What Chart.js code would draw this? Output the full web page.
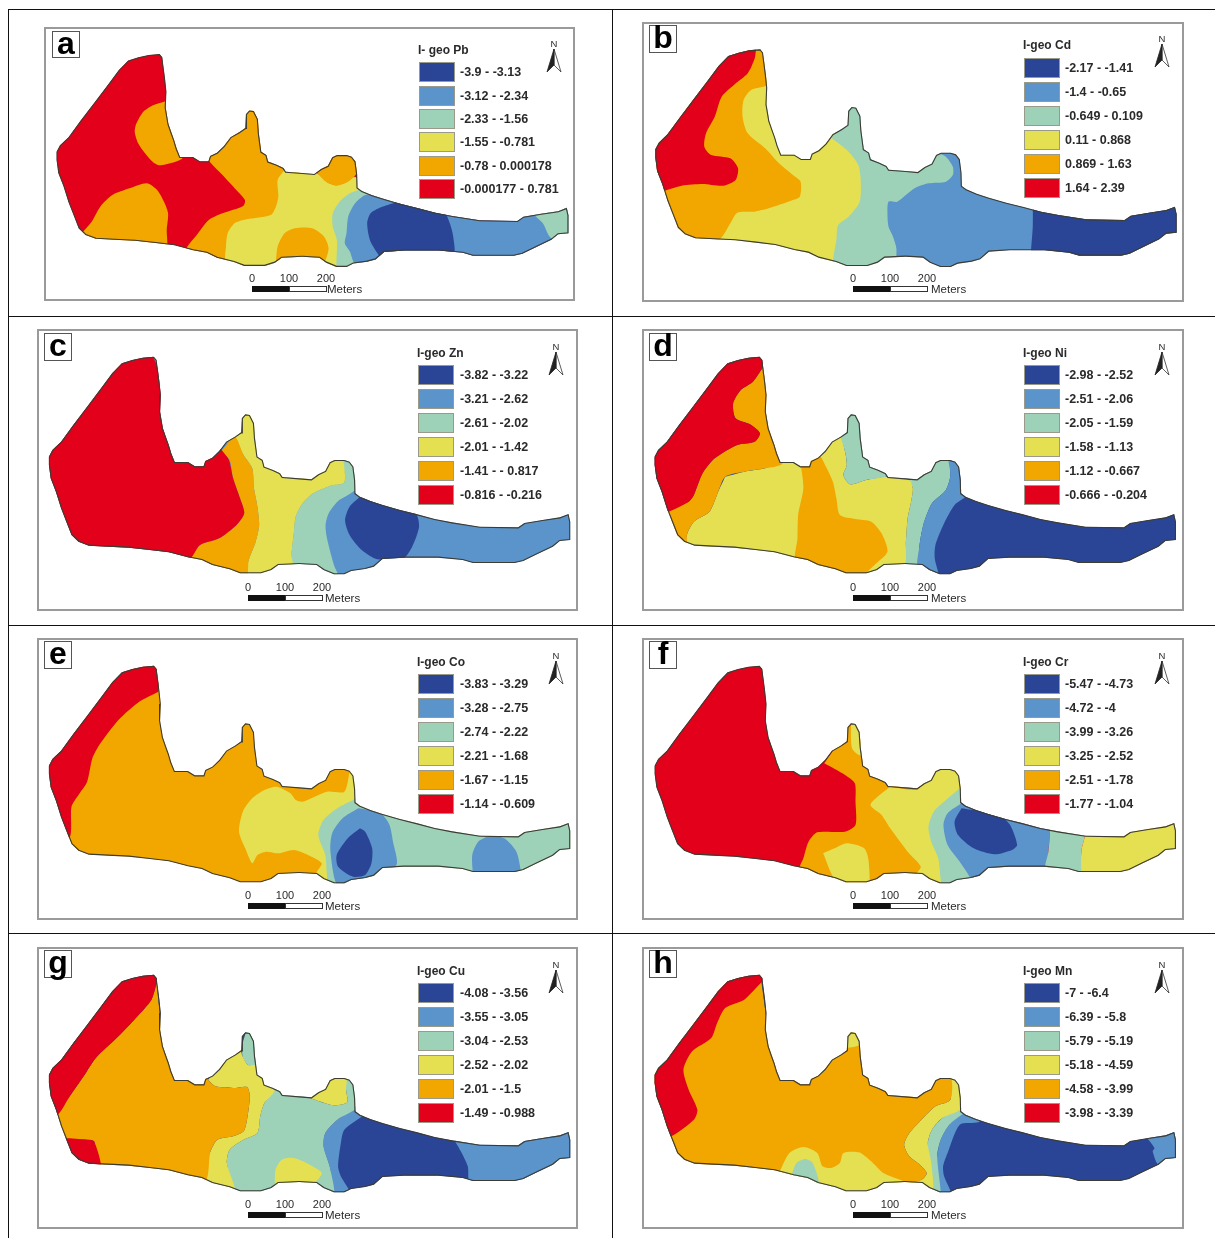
<!DOCTYPE html>
<html>
<head>
<meta charset="utf-8">
<title>I-geo maps</title>
<script src="https://cdn.jsdelivr.net/npm/chart.js@4/dist/chart.umd.min.js"></script>
<style>
  html, body { margin: 0; padding: 0; background: #fff; }
  #page { position: relative; width: 1215px; height: 1238px; overflow: hidden; font-family: "Liberation Sans", Arial, sans-serif; color: #2a2a2a; filter: blur(0.35px); }
  #page div, #page canvas, #page svg { position: absolute; }
  .rule { background: #111; }
  .frame { box-sizing: border-box; border: 2px solid #9a9a9a; }
  .tag { box-sizing: border-box; border: 1.5px solid #555; background: #fff; color: #000; font-weight: 700; font-size: 32px; line-height: 23px; text-align: center; }
  .title { font-size: 12px; font-weight: 700; line-height: 14px; white-space: nowrap; }
  .range { font-size: 12.5px; font-weight: 700; line-height: 14px; white-space: nowrap; }
  .swatch { box-sizing: border-box; border: 1px solid #9a9a8a; }
  .tick { font-size: 11px; line-height: 12px; transform: translateX(-50%); }
  .meters { font-size: 11.5px; line-height: 12px; }
  .north { font-size: 9.5px; line-height: 10px; transform: translateX(-50%); }
</style>
</head>
<body>
<div id="page"></div>
<script>
// class colours, class 0 = lowest I-geo range, 5 = highest
const palette = ["#2b4596", "#5b93cb", "#9dd2b9", "#e5e052", "#f2a600", "#e2001a"];

const panelLetters = ["a", "b", "c", "d", "e", "f", "g", "h"];
const panelTitles = ["I- geo Pb", "I-geo Cd", "I-geo Zn", "I-geo Ni", "I-geo Co", "I-geo Cr", "I-geo Cu", "I-geo Mn"];
const rangesA = ["-3.9 - -3.13", "-3.12 - -2.34", "-2.33 - -1.56", "-1.55 - -0.781", "-0.78 - 0.000178", "-0.000177 - 0.781"];
const rangesB = ["-2.17 - -1.41", "-1.4 - -0.65", "-0.649 - 0.109", "0.11 - 0.868", "0.869 - 1.63", "1.64 - 2.39"];
const rangesC = ["-3.82 - -3.22", "-3.21 - -2.62", "-2.61 - -2.02", "-2.01 - -1.42", "-1.41 - - 0.817", "-0.816 - -0.216"];
const rangesD = ["-2.98 - -2.52", "-2.51 - -2.06", "-2.05 - -1.59", "-1.58 - -1.13", "-1.12 - -0.667", "-0.666 - -0.204"];
const rangesE = ["-3.83 - -3.29", "-3.28 - -2.75", "-2.74 - -2.22", "-2.21 - -1.68", "-1.67 - -1.15", "-1.14 - -0.609"];
const rangesF = ["-5.47 - -4.73", "-4.72 - -4", "-3.99 - -3.26", "-3.25 - -2.52", "-2.51 - -1.78", "-1.77 - -1.04"];
const rangesG = ["-4.08 - -3.56", "-3.55 - -3.05", "-3.04 - -2.53", "-2.52 - -2.02", "-2.01 - -1.5", "-1.49 - -0.988"];
const rangesH = ["-7 - -6.4", "-6.39 - -5.8", "-5.79 - -5.19", "-5.18 - -4.59", "-4.58 - -3.99", "-3.98 - -3.39"];
const scaleTicks = ["0", "100", "200"];

// site boundary, map grid units
const outline = [[40,395],[50,375],[75,350],[110,300],[150,245],[190,190],[222,145],[250,115],[280,105],[310,98],[342,95],[350,105],[353,130],[358,170],[362,210],[360,260],[368,310],[378,340],[385,360],[392,385],[402,411],[440,411],[460,424],[485,424],[490,408],[510,398],[530,378],[550,350],[575,335],[593,322],[595,280],[605,268],[618,270],[630,295],[633,340],[640,395],[655,405],[660,425],[685,435],[705,445],[712,456],[760,460],[795,463],[815,448],[835,438],[848,412],[862,405],[890,405],[905,410],[916,425],[921,465],[922,505],[935,515],[965,528],[1000,540],[1050,555],[1100,568],[1150,582],[1200,592],[1280,605],[1390,607],[1408,594],[1460,585],[1510,577],[1535,567],[1540,590],[1540,645],[1510,648],[1490,665],[1440,690],[1405,708],[1380,714],[1260,714],[1230,705],[1160,698],[1060,698],[1000,702],[975,725],[950,732],[910,738],[890,748],[860,748],[830,735],[810,720],[760,717],[700,720],[680,735],[650,745],[590,745],[560,733],[510,720],[480,705],[440,697],[385,682],[330,675],[270,668],[210,665],[155,662],[125,650],[105,630],[90,590],[75,550],[60,500],[45,460],[40,420],[40,395]];

// contour zones of each panel, [class, points], painted in order over the base class
const baseClasses = [5, 1, 1, 0, 4, 5, 0, 0];
const zonesA = [
  [4, [[480,400],[490,422],[530,465],[570,510],[595,540],[590,558],[530,580],[490,600],[455,645],[425,685],[430,700],[600,770],[750,770],[750,440],[700,420],[620,250],[590,280],[520,380]]],
  [4, [[360,245],[330,255],[300,275],[280,310],[275,335],[285,370],[305,400],[330,428],[350,436],[410,418],[430,380],[400,300],[390,235]]],
  [4, [[125,635],[150,605],[175,560],[210,525],[260,505],[310,490],[340,510],[360,545],[372,580],[368,630],[366,690],[300,700],[150,690],[100,650]]],
  [3, [[708,452],[690,480],[692,530],[685,560],[670,585],[600,598],[565,610],[545,640],[540,680],[540,725],[600,770],[880,770],[930,500],[915,470],[880,490],[840,490],[805,460],[760,440]]],
  [4, [[805,458],[830,485],[860,497],[895,485],[918,462],[935,420],[900,385],[850,385],[820,430]]],
  [4, [[685,725],[690,680],[710,640],[740,625],[790,625],[825,650],[838,685],[825,730],[800,750],[700,750]]],
  [2, [[940,505],[900,520],[870,545],[850,580],[850,620],[862,660],[865,760],[920,760],[990,500]]],
  [1, [[1030,545],[990,525],[945,525],[915,550],[895,590],[890,640],[885,670],[900,695],[915,730],[1000,730],[1000,720],[1500,720],[1560,650],[1560,540],[1400,560],[1030,520]]],
  [2, [[1435,585],[1460,610],[1485,655],[1560,660],[1560,540],[1440,560]]],
  [0, [[1030,548],[990,562],[960,580],[950,610],[958,660],[980,700],[1000,725],[1100,725],[1200,710],[1200,650],[1190,610],[1175,578],[1100,545]]]
];
const zonesB = [
  [0, [[1130,540],[1130,620],[1125,695],[1125,770],[1600,770],[1600,500]]],
  [3, [[380,165],[400,385],[560,330],[640,420],[640,600],[600,770],[540,750],[200,700],[230,640],[280,280],[300,200]]],
  [2, [[552,355],[600,395],[628,435],[635,480],[632,545],[600,590],[570,615],[565,660],[555,725],[560,770],[725,770],[738,690],[728,650],[715,620],[712,585],[715,545],[740,545],[790,505],[830,490],[880,485],[900,465],[900,440],[880,410],[855,398],[830,390],[700,300],[630,240],[580,280]]],
  [4, [[345,75],[375,190],[320,210],[298,240],[295,290],[310,340],[360,385],[400,430],[440,465],[462,485],[460,530],[440,540],[370,565],[330,575],[280,578],[260,610],[228,660],[150,690],[40,540],[20,380],[230,80]]],
  [5, [[335,75],[330,115],[310,160],[270,195],[235,230],[215,290],[190,340],[185,380],[205,405],[260,415],[282,445],[275,480],[240,497],[180,492],[120,497],[68,513],[20,530],[10,380],[230,75]]]
];
const zonesC = [
  [2, [[880,395],[892,450],[888,475],[850,482],[800,505],[770,535],[750,575],[745,620],[738,690],[740,730],[875,765],[860,720],[840,640],[836,600],[845,565],[870,530],[925,490],[940,395]]],
  [3, [[575,335],[600,390],[625,430],[630,490],[640,545],[645,600],[635,650],[615,705],[605,765],[740,730],[738,690],[745,620],[750,575],[770,535],[800,505],[850,482],[888,475],[892,450],[880,395],[700,300],[620,250]]],
  [4, [[535,380],[575,335],[600,390],[625,430],[630,490],[640,545],[645,600],[635,650],[615,705],[605,765],[430,715],[475,660],[530,640],[580,600],[602,565],[590,520],[570,460],[560,405]]],
  [5, [[535,372],[558,405],[570,460],[590,520],[602,565],[580,600],[530,640],[475,660],[440,705],[100,720],[0,400],[300,50],[420,300],[480,350]]],
  [0, [[935,515],[905,545],[892,585],[905,630],[940,675],[985,703],[1060,700],[1085,665],[1105,605],[1095,565],[1030,540]]]
];
const zonesD = [
  [2, [[775,465],[785,490],[780,530],[770,580],[765,650],[758,730],[800,735],[803,670],[815,600],[840,535],[880,495],[893,450],[885,395],[840,395],[800,460]]],
  [1, [[885,395],[893,450],[880,495],[840,535],[815,600],[803,670],[800,730],[860,765],[848,700],[850,660],[875,595],[905,540],[945,505],[930,395]]],
  [3, [[245,455],[300,440],[360,430],[445,400],[470,395],[525,385],[540,360],[575,330],[590,380],[595,420],[585,450],[605,478],[650,465],[710,455],[775,465],[785,490],[780,530],[770,580],[765,650],[758,730],[650,765],[400,720],[135,680],[135,630],[155,590],[200,560],[225,500]]],
  [2, [[575,330],[590,380],[595,420],[585,450],[605,478],[650,465],[715,452],[720,430],[650,390],[645,300],[610,250],[580,300]]],
  [4, [[463,420],[485,395],[515,390],[535,425],[555,470],[565,520],[575,570],[620,582],[665,590],[695,625],[712,680],[680,715],[650,745],[640,765],[450,720],[453,640],[455,570],[470,490]]],
  [4, [[352,130],[325,170],[290,195],[268,235],[275,280],[320,300],[345,325],[330,350],[280,360],[215,400],[180,445],[155,510],[140,530],[60,570],[90,670],[135,680],[135,630],[155,590],[200,560],[225,500],[245,455],[300,440],[360,430],[410,415],[395,300],[370,100]]],
  [5, [[352,130],[325,170],[290,195],[268,235],[275,280],[320,300],[345,325],[330,350],[280,360],[215,400],[180,445],[155,510],[140,530],[78,562],[20,580],[10,390],[250,80],[360,80]]]
];
const zonesE = [
  [5, [[355,170],[300,200],[240,255],[185,330],[165,370],[150,440],[125,480],[105,515],[98,610],[20,600],[10,380],[250,75],[360,75]]],
  [3, [[905,412],[890,470],[840,470],[770,500],[750,495],[735,475],[695,455],[660,465],[625,490],[598,530],[587,590],[605,640],[625,685],[640,660],[665,650],[700,655],[745,645],[790,662],[825,685],[810,715],[840,745],[860,760],[850,600],[940,500],[925,400]]],
  [2, [[925,490],[870,520],[830,555],[815,600],[835,660],[840,720],[845,765],[1000,735],[1000,720],[1260,725],[1410,725],[1560,660],[1560,550],[1380,590],[1000,515]]],
  [1, [[930,520],[885,550],[855,595],[850,650],[872,755],[940,745],[980,725],[1040,690],[1030,620],[1020,570],[1000,540],[960,525]]],
  [1, [[1260,720],[1258,660],[1275,620],[1310,603],[1350,610],[1385,650],[1398,710],[1398,735],[1260,735]]],
  [0, [[935,580],[900,610],[868,660],[872,695],[915,725],[950,720],[968,685],[970,640],[950,590]]]
];
const zonesF = [
  [4, [[530,385],[590,420],[618,445],[620,500],[620,570],[590,590],[510,592],[485,620],[470,670],[460,705],[590,765],[700,735],[820,725],[850,500],[750,420],[660,300],[650,240],[590,240],[570,320]]],
  [3, [[607,255],[610,340],[635,362],[660,340],[645,245]]],
  [3, [[720,455],[692,478],[663,510],[695,540],[720,580],[770,650],[808,695],[795,720],[870,755],[890,765],[940,480],[930,395],[850,385],[800,462]]],
  [3, [[527,655],[560,640],[595,625],[645,640],[658,680],[655,765],[590,765],[555,725]]],
  [2, [[925,455],[880,495],[845,530],[830,575],[838,620],[858,670],[875,765],[955,745],[970,600],[950,495]]],
  [1, [[925,505],[885,535],[873,570],[885,630],[920,680],[950,730],[950,765],[1165,765],[1175,650],[1180,585],[1180,550],[1050,520],[950,500]]],
  [2, [[1180,560],[1180,585],[1175,650],[1165,695],[1165,730],[1280,730],[1270,650],[1280,603],[1280,570]]],
  [3, [[1280,575],[1280,603],[1270,650],[1280,730],[1560,720],[1560,540]]],
  [0, [[925,520],[905,560],[915,600],[960,640],[1020,658],[1070,645],[1085,630],[1065,570],[1040,545],[985,530]]]
];
const zonesG = [
  [1, [[1200,580],[1225,625],[1245,670],[1255,730],[1560,730],[1560,540],[1200,560]]],
  [1, [[925,490],[870,530],[835,570],[830,610],[850,680],[855,765],[910,760],[880,700],[872,670],[880,600],[890,560],[950,510]]],
  [2, [[690,440],[660,480],[648,520],[640,570],[600,590],[560,620],[552,660],[570,730],[590,765],[855,765],[850,680],[830,610],[835,570],[870,530],[930,490],[930,400],[895,395],[895,440],[898,478],[860,487],[790,465],[720,440]]],
  [2, [[610,258],[598,300],[597,340],[612,365],[637,368],[650,300],[625,250]]],
  [3, [[498,410],[520,430],[570,435],[610,432],[618,460],[610,530],[600,565],[570,580],[525,590],[505,625],[480,715],[575,750],[552,660],[560,620],[600,590],[640,570],[648,520],[660,480],[690,440],[645,395],[637,368],[612,365],[597,340],[590,320],[550,335]]],
  [3, [[790,465],[860,487],[898,478],[895,440],[895,395],[855,395],[835,420]]],
  [3, [[690,730],[692,680],[710,650],[745,645],[790,665],[825,690],[800,722],[750,725]]],
  [4, [[350,120],[335,170],[290,225],[240,280],[175,345],[140,400],[100,460],[65,515],[85,585],[150,590],[170,595],[190,680],[485,720],[505,625],[525,590],[570,580],[600,565],[610,530],[618,460],[610,432],[570,435],[520,430],[498,410],[480,385],[400,380],[370,300]]],
  [5, [[350,120],[335,170],[290,225],[240,280],[175,345],[140,400],[100,460],[65,515],[20,520],[10,390],[250,75],[360,75]]],
  [5, [[85,585],[150,590],[170,595],[190,680],[150,690],[80,650],[60,590]]]
];
const zonesH = [
  [1, [[1455,580],[1480,615],[1475,625],[1492,665],[1560,665],[1560,550]]],
  [1, [[935,505],[890,545],[865,590],[855,640],[845,720],[865,765],[895,755],[875,700],[872,670],[885,630],[920,545],[975,537],[1010,500]]],
  [2, [[920,490],[870,525],[840,560],[828,600],[832,660],[838,740],[865,765],[855,640],[865,590],[890,545],[930,512],[965,495]]],
  [3, [[890,395],[893,470],[850,490],[810,530],[775,570],[760,605],[775,640],[805,665],[825,690],[810,710],[770,715],[840,750],[838,660],[828,600],[840,560],[870,525],[925,495],[935,395]]],
  [4, [[340,60],[410,400],[600,250],[660,250],[890,395],[893,470],[850,490],[810,530],[775,570],[760,605],[775,640],[805,665],[825,690],[810,710],[770,722],[400,715],[100,690],[30,400],[200,90]]],
  [3, [[400,690],[430,630],[470,612],[510,630],[525,670],[550,675],[575,660],[585,630],[630,628],[665,655],[700,690],[760,715],[840,750],[600,770],[400,715]]],
  [2, [[437,692],[450,660],[475,648],[497,660],[515,730],[470,730]]],
  [3, [[595,315],[632,305],[650,250],[585,250]]],
  [5, [[352,115],[300,170],[245,195],[222,240],[205,285],[150,325],[125,380],[140,440],[165,500],[155,530],[85,582],[20,590],[10,390],[250,75],[360,75]]]
];

const allRanges = [rangesA, rangesB, rangesC, rangesD, rangesE, rangesF, rangesG, rangesH];
const allZones = [zonesA, zonesB, zonesC, zonesD, zonesE, zonesF, zonesG, zonesH];

// page layout of every panel, in pixels
const layouts = [
  { crop: [40, 20, 540, 285], frame: [44, 27, 575, 301], tag: [52, 31, 28, 27], title: [418, 43], rows: [72, 95.5, 119, 142, 166, 189], swatchX: 419, textX: 460, bar: [252, 289], ticksY: 272, metersX: 327, north: [554, 39], fit: [46, 102, 0.991, 0.978] },
  { crop: [640, 20, 545, 285], frame: [642, 22, 1184, 302], tag: [649, 25, 28, 28], title: [1023, 38], rows: [68, 92, 116, 140, 164, 188], swatchX: 1024, textX: 1065, bar: [853, 289], ticksY: 272, metersX: 931, north: [1162, 34], fit: [42, 88, 1, 1] },
  { crop: [35, 325, 545, 290], frame: [37, 329, 578, 611], tag: [44, 333, 28, 28], title: [417, 346], rows: [375, 399, 423, 447, 471, 495], swatchX: 418, textX: 460, bar: [248, 598], ticksY: 581, metersX: 325, north: [556, 342], fit: [38, 95, 1, 1] },
  { crop: [640, 325, 545, 290], frame: [642, 329, 1184, 611], tag: [649, 333, 28, 28], title: [1023, 346], rows: [375, 399, 423, 447, 471, 495], swatchX: 1024, textX: 1065, bar: [853, 598], ticksY: 581, metersX: 931, north: [1162, 342], fit: [40, 95, 1, 1] },
  { crop: [35, 635, 545, 290], frame: [37, 638, 578, 920], tag: [44, 641, 28, 28], title: [417, 655], rows: [684, 708, 732, 756, 780, 804], swatchX: 418, textX: 460, bar: [248, 906], ticksY: 889, metersX: 325, north: [556, 651], fit: [38, 92, 1, 1] },
  { crop: [640, 635, 545, 290], frame: [642, 638, 1184, 920], tag: [649, 641, 28, 28], title: [1023, 655], rows: [684, 708, 732, 756, 780, 804], swatchX: 1024, textX: 1065, bar: [853, 906], ticksY: 889, metersX: 931, north: [1162, 651], fit: [40, 92, 1, 1] },
  { crop: [35, 943, 545, 290], frame: [37, 947, 578, 1229], tag: [44, 950, 28, 28], title: [417, 964], rows: [993, 1017, 1041, 1065, 1089, 1113], swatchX: 418, textX: 460, bar: [248, 1215], ticksY: 1198, metersX: 325, north: [556, 960], fit: [38, 95, 1, 1] },
  { crop: [640, 943, 545, 290], frame: [642, 947, 1184, 1229], tag: [649, 950, 28, 28], title: [1023, 964], rows: [993, 1017, 1041, 1065, 1089, 1113], swatchX: 1024, textX: 1065, bar: [853, 1215], ticksY: 1198, metersX: 931, north: [1162, 960], fit: [40, 95, 1, 1] }
];

const page = document.getElementById("page");

function addBox(cls, left, top, width, height, text) {
  const el = document.createElement("div");
  el.className = cls;
  el.style.left = left + "px";
  el.style.top = top + "px";
  if (width != null) el.style.width = width + "px";
  if (height != null) el.style.height = height + "px";
  if (text != null) el.textContent = text;
  page.appendChild(el);
  return el;
}

// table rules
addBox("rule", 8, 9, 1207, 1);
addBox("rule", 8, 316, 1207, 1);
addBox("rule", 8, 625, 1207, 1);
addBox("rule", 8, 933, 1207, 1);
addBox("rule", 8, 9, 1, 1229);
addBox("rule", 612, 9, 1, 1229);

// clips every zone to the site boundary so zones can overshoot it
const clipToBoundary = {
  id: "clipToBoundary",
  beforeDatasetsDraw(chart) {
    const { ctx, scales } = chart;
    const pts = chart.data.datasets[0].data;
    ctx.save();
    ctx.beginPath();
    pts.forEach((p, i) => {
      const px = scales.x.getPixelForValue(p.x);
      const py = scales.y.getPixelForValue(p.y);
      if (i === 0) ctx.moveTo(px, py);
      else ctx.lineTo(px, py);
    });
    ctx.closePath();
    ctx.clip();
  },
  afterDatasetsDraw(chart) {
    chart.ctx.restore();
  },
};

function toPoints(list) {
  return list.map((p) => ({ x: p[0], y: p[1] }));
}

function drawMap(i) {
  const layout = layouts[i];
  const [left, top, width, height] = layout.crop;
  const canvas = document.createElement("canvas");
  canvas.width = width;
  canvas.height = height;
  canvas.style.left = left + "px";
  canvas.style.top = top + "px";
  page.appendChild(canvas);

  // the boundary is the same site in each panel, only placed a little differently
  const [fx, fy, sx, sy] = layout.fit;
  const boundary = outline.map((p) => [fx + (p[0] - 38) * sx, fy + (p[1] - 95) * sy]);
  const zones = allZones[i];
  const total = zones.length + 2;

  const datasets = [
    {
      label: "base",
      data: toPoints(boundary),
      showLine: true,
      pointRadius: 0,
      borderWidth: 0,
      backgroundColor: palette[baseClasses[i]],
      fill: "shape",
      order: total,
    },
  ];
  zones.forEach((zone, z) => {
    datasets.push({
      label: "zone " + z,
      data: toPoints(zone[1].concat([zone[1][0]])),
      showLine: true,
      pointRadius: 0,
      borderWidth: 0,
      tension: 0.25,
      backgroundColor: palette[zone[0]],
      fill: "shape",
      order: total - 1 - z,
    });
  });
  datasets.push({
    label: "boundary",
    data: toPoints(boundary),
    showLine: true,
    pointRadius: 0,
    borderWidth: 2.2,
    borderColor: "#3c3c34",
    fill: false,
    order: 0,
  });

  new Chart(canvas, {
    type: "scatter",
    data: { datasets: datasets },
    options: {
      responsive: false,
      animation: false,
      events: [],
      layout: { padding: 0 },
      plugins: { legend: { display: false }, tooltip: { enabled: false }, title: { display: false } },
      scales: {
        x: { type: "linear", display: false, min: 0, max: 1568 },
        y: { type: "linear", display: false, reverse: true, min: 0, max: height * 3 },
      },
    },
    plugins: [clipToBoundary],
  });
}

function drawFurniture(i) {
  const layout = layouts[i];
  const [x0, y0, x1, y1] = layout.frame;
  addBox("frame", x0, y0, x1 - x0, y1 - y0);

  const [tx, ty, tw, th] = layout.tag;
  addBox("tag", tx, ty, tw, th, panelLetters[i]);

  addBox("title", layout.title[0], layout.title[1], null, null, panelTitles[i]);
  allRanges[i].forEach((range, r) => {
    const yc = layout.rows[r];
    const sw = addBox("swatch", layout.swatchX, yc - 10, 36, 20);
    sw.style.background = palette[r];
    addBox("range", layout.textX, yc - 7, null, null, range);
  });

  // scale bar
  const [bx, by] = layout.bar;
  const barBlack = addBox("", bx, by - 3, 37, 6);
  barBlack.style.background = "#111";
  const barWhite = addBox("", bx + 37, by - 3, 38, 6);
  barWhite.style.background = "#fff";
  barWhite.style.boxSizing = "border-box";
  barWhite.style.border = "1px solid #333";
  scaleTicks.forEach((tick, t) => {
    addBox("tick", bx + t * 37, layout.ticksY, null, null, tick);
  });
  addBox("meters", layout.metersX, by - 6, null, null, "Meters");

  // north arrow
  const [nx, ny] = layout.north;
  addBox("north", nx, ny, null, null, "N");
  const svg = document.createElementNS("http://www.w3.org/2000/svg", "svg");
  svg.setAttribute("width", "16");
  svg.setAttribute("height", "26");
  svg.style.left = nx - 8 + "px";
  svg.style.top = ny + 9 + "px";
  svg.innerHTML = '<path d="M8 1 L15 24 L8 17 Z" fill="#fff" stroke="#333" stroke-width="0.8"/><path d="M8 1 L1 24 L8 17 Z" fill="#222" stroke="#222" stroke-width="0.8"/>';
  page.appendChild(svg);
}

panelLetters.forEach((letter, i) => {
  drawFurniture(i);
  drawMap(i);
});
</script>
</body>
</html>
